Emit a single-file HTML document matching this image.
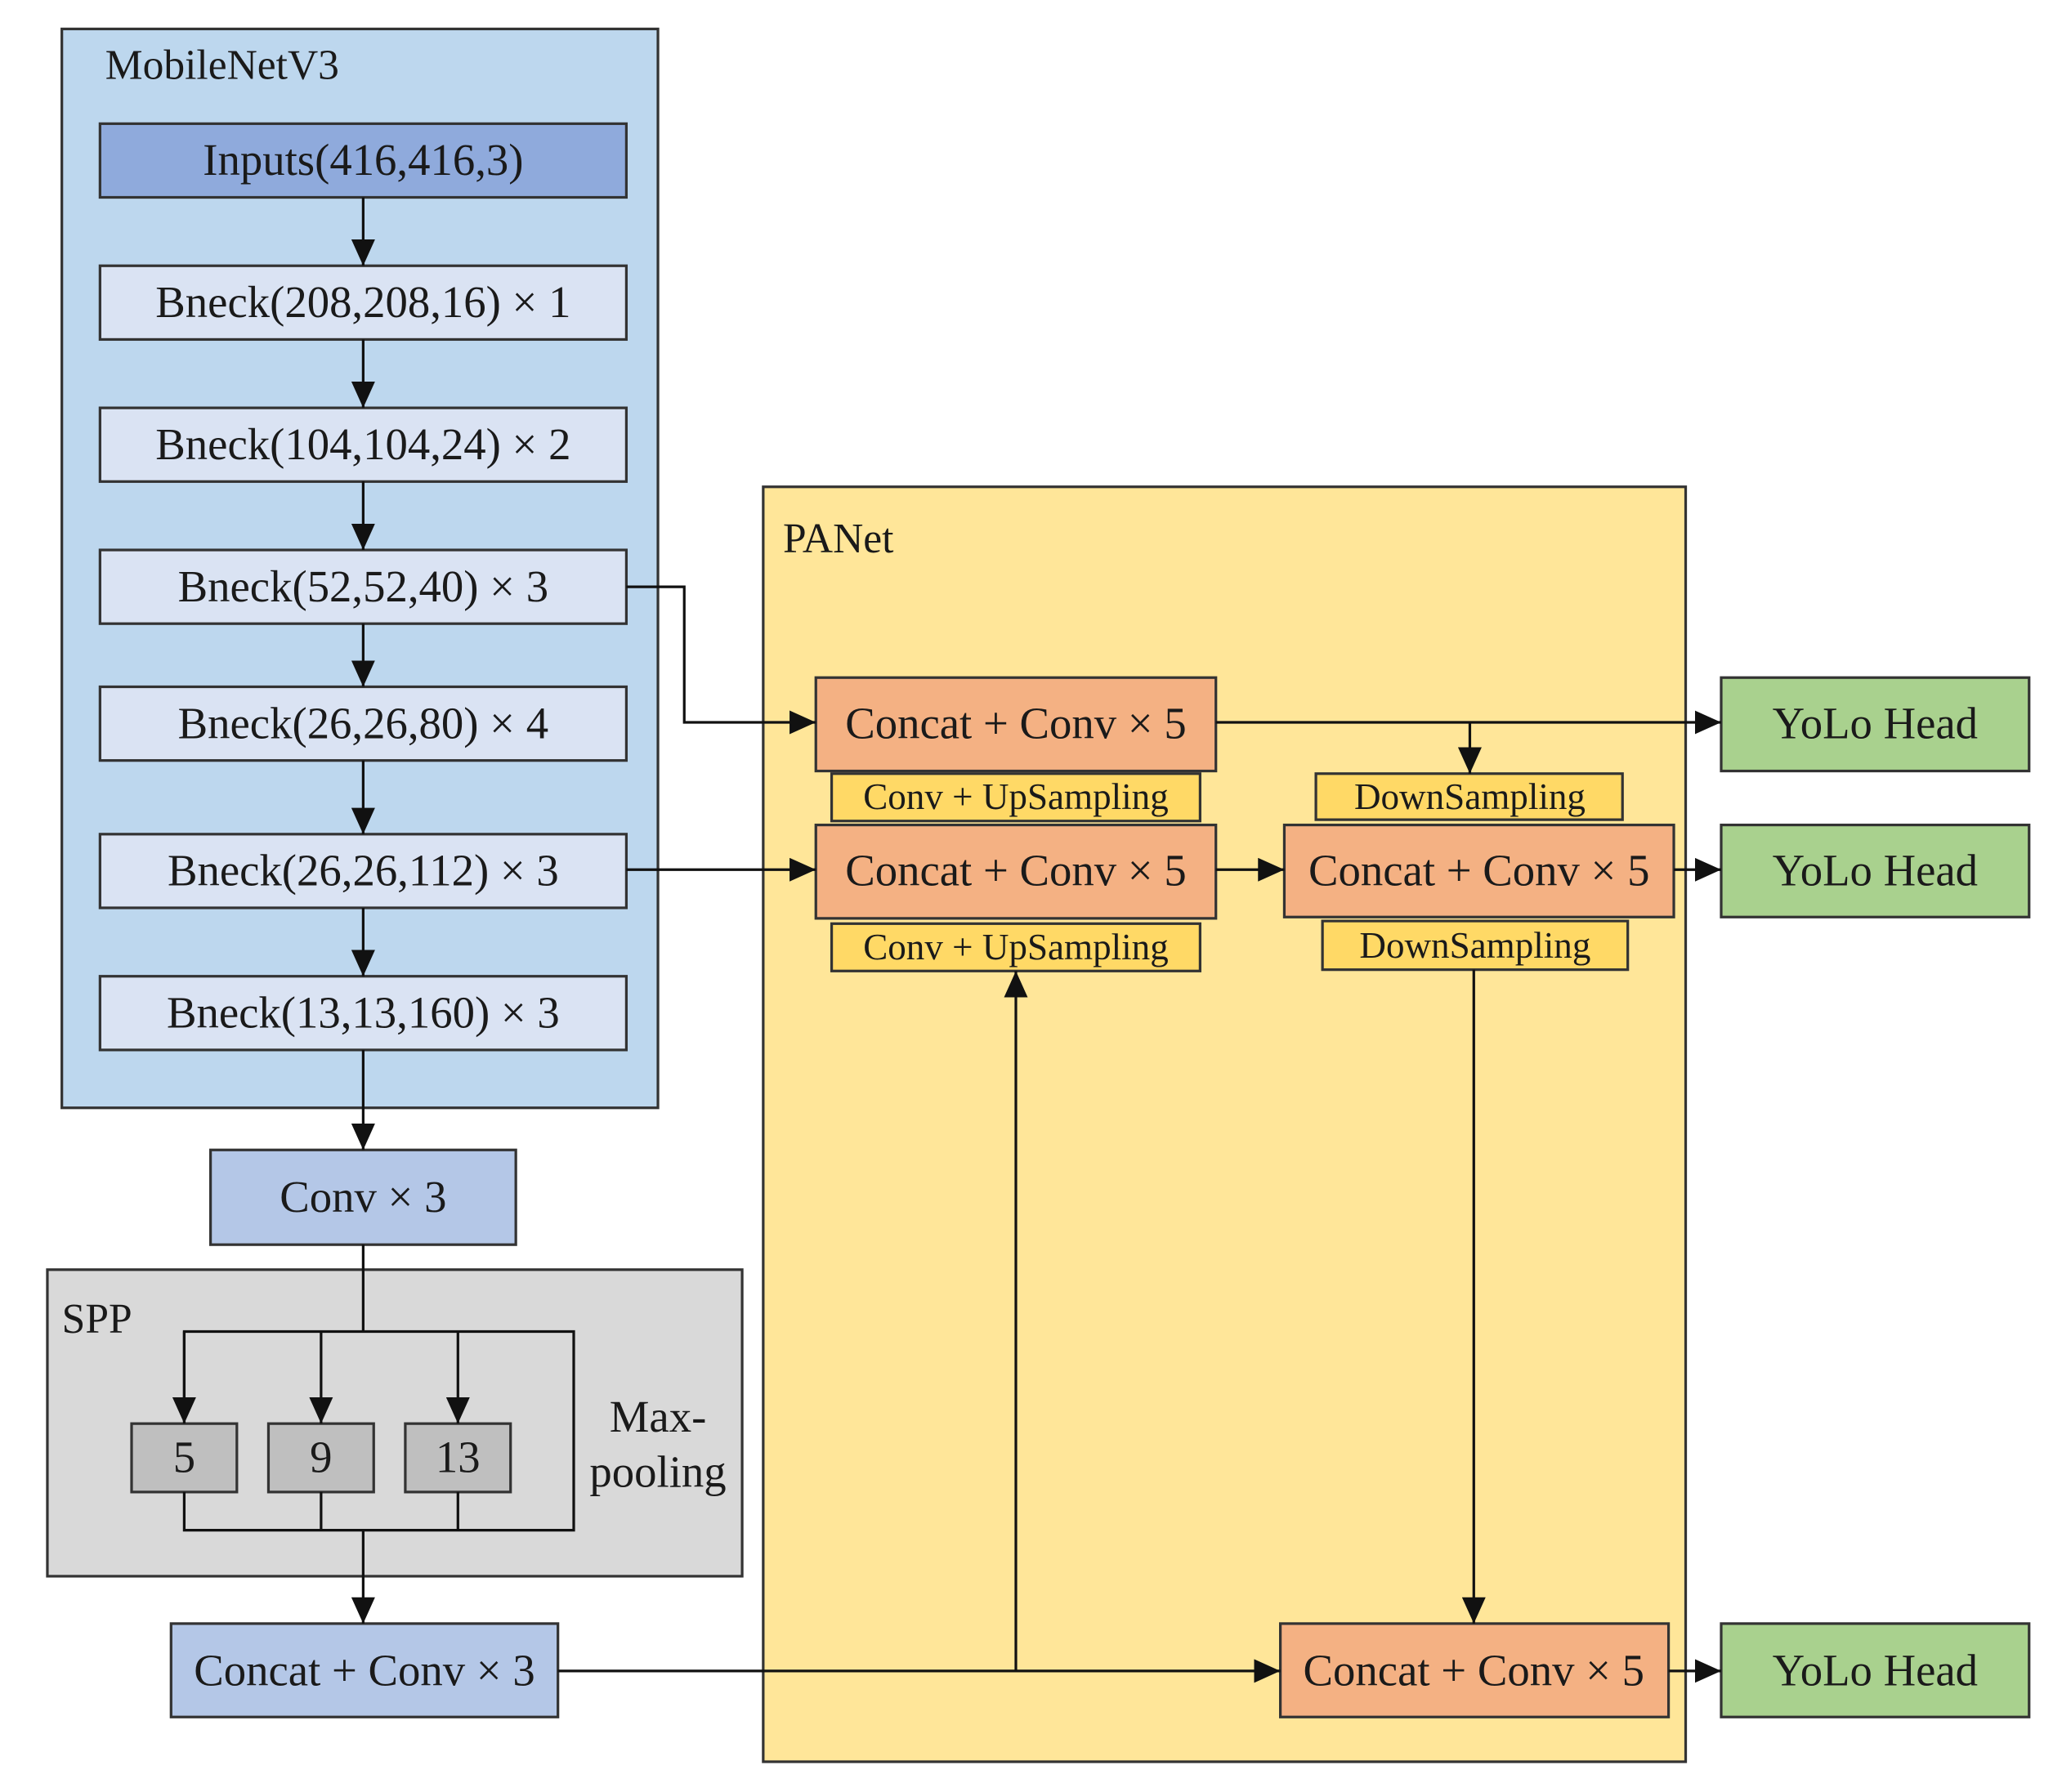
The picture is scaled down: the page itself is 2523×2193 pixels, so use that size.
<!DOCTYPE html>
<html><head><meta charset="utf-8"><style>
html,body{margin:0;padding:0;background:#fff;}
svg{display:block;}
text{font-family:"Liberation Serif",serif;fill:#1a1a1a;}
</style></head><body>
<svg width="2523" height="2193" viewBox="0 0 1567 1362" preserveAspectRatio="none" xmlns="http://www.w3.org/2000/svg">
<defs>
<marker id="b" markerWidth="20" markerHeight="18" refX="20" refY="9" orient="auto" markerUnits="userSpaceOnUse">
<path d="M0,0 L20,9 L0,18 z" fill="#111"/></marker>
</defs>
<g stroke="#333" stroke-width="2">
<rect x="47" y="22" width="453" height="820" fill="#bdd7ee"/>
<rect x="580" y="370" width="701" height="969" fill="#ffe699"/>
<rect x="36" y="965" width="528" height="233" fill="#d9d9d9"/>
<rect x="76" y="94" width="400" height="56" fill="#8faadc"/>
<rect x="76" y="202" width="400" height="56" fill="#dae3f3"/>
<rect x="76" y="310" width="400" height="56" fill="#dae3f3"/>
<rect x="76" y="418" width="400" height="56" fill="#dae3f3"/>
<rect x="76" y="522" width="400" height="56" fill="#dae3f3"/>
<rect x="76" y="634" width="400" height="56" fill="#dae3f3"/>
<rect x="76" y="742" width="400" height="56" fill="#dae3f3"/>
<rect x="160" y="874" width="232" height="72" fill="#b4c7e7"/>
<rect x="100" y="1082" width="80" height="52" fill="#bfbfbf"/>
<rect x="204" y="1082" width="80" height="52" fill="#bfbfbf"/>
<rect x="308" y="1082" width="80" height="52" fill="#bfbfbf"/>
<rect x="130" y="1234" width="294" height="71" fill="#b4c7e7"/>
<rect x="620" y="515" width="304" height="71" fill="#f4b183"/>
<rect x="632" y="588" width="280" height="36" fill="#ffd966"/>
<rect x="620" y="627" width="304" height="71" fill="#f4b183"/>
<rect x="632" y="702" width="280" height="36" fill="#ffd966"/>
<rect x="1000" y="588" width="233" height="35" fill="#ffd966"/>
<rect x="976" y="627" width="296" height="70" fill="#f4b183"/>
<rect x="1005" y="700" width="232" height="37" fill="#ffd966"/>
<rect x="973" y="1234" width="295" height="71" fill="#f4b183"/>
<rect x="1308" y="515" width="234" height="71" fill="#a9d18e"/>
<rect x="1308" y="627" width="234" height="70" fill="#a9d18e"/>
<rect x="1308" y="1234" width="234" height="71" fill="#a9d18e"/>
</g>
<g stroke="#111" stroke-width="2" fill="none">
<line x1="276" y1="150" x2="276" y2="202" marker-end="url(#b)"/>
<line x1="276" y1="258" x2="276" y2="310" marker-end="url(#b)"/>
<line x1="276" y1="366" x2="276" y2="418" marker-end="url(#b)"/>
<line x1="276" y1="474" x2="276" y2="522" marker-end="url(#b)"/>
<line x1="276" y1="578" x2="276" y2="634" marker-end="url(#b)"/>
<line x1="276" y1="690" x2="276" y2="742" marker-end="url(#b)"/>
<line x1="276" y1="798" x2="276" y2="874" marker-end="url(#b)"/>
<polyline points="276,946 276,1012"/>
<polyline points="140,1080 140,1012 436,1012 436,1163 140,1163 140,1134"/>
<line x1="244" y1="1012" x2="244" y2="1082" marker-end="url(#b)"/>
<line x1="348" y1="1012" x2="348" y2="1082" marker-end="url(#b)"/>
<line x1="140" y1="1012" x2="140" y2="1082" marker-end="url(#b)"/>
<line x1="244" y1="1134" x2="244" y2="1163"/>
<line x1="348" y1="1134" x2="348" y2="1163"/>
<line x1="276" y1="1163" x2="276" y2="1234" marker-end="url(#b)"/>
<polyline points="476,446 520,446 520,549 620,549" marker-end="url(#b)"/>
<line x1="476" y1="661" x2="620" y2="661" marker-end="url(#b)"/>
<line x1="924" y1="549" x2="1308" y2="549" marker-end="url(#b)"/>
<polyline points="1117,549 1117,588" marker-end="url(#b)"/>
<line x1="924" y1="661" x2="976" y2="661" marker-end="url(#b)"/>
<line x1="1272" y1="661" x2="1308" y2="661" marker-end="url(#b)"/>
<line x1="1120" y1="737" x2="1120" y2="1234" marker-end="url(#b)"/>
<line x1="424" y1="1270" x2="973" y2="1270" marker-end="url(#b)"/>
<line x1="772" y1="1270" x2="772" y2="738" marker-end="url(#b)"/>
<line x1="1268" y1="1270" x2="1308" y2="1270" marker-end="url(#b)"/>
</g>
<g font-size="34" text-anchor="middle">
<text x="276" y="133">Inputs(416,416,3)</text>
<text x="276" y="241">Bneck(208,208,16) × 1</text>
<text x="276" y="349">Bneck(104,104,24) × 2</text>
<text x="276" y="457">Bneck(52,52,40) × 3</text>
<text x="276" y="561">Bneck(26,26,80) × 4</text>
<text x="276" y="673">Bneck(26,26,112) × 3</text>
<text x="276" y="781">Bneck(13,13,160) × 3</text>
<text x="276" y="921">Conv × 3</text>
<text x="140" y="1119">5</text>
<text x="244" y="1119">9</text>
<text x="348" y="1119">13</text>
<text x="277" y="1281">Concat + Conv × 3</text>
<text x="772" y="561">Concat + Conv × 5</text>
<text x="772" y="673">Concat + Conv × 5</text>
<text x="1124" y="673">Concat + Conv × 5</text>
<text x="1120" y="1281">Concat + Conv × 5</text>
<text x="1425" y="561">YoLo Head</text>
<text x="1425" y="673">YoLo Head</text>
<text x="1425" y="1281">YoLo Head</text>
<text x="500" y="1088">Max-</text>
<text x="500" y="1130">pooling</text>
</g>
<g font-size="28" text-anchor="middle">
<text x="772" y="615">Conv + UpSampling</text>
<text x="772" y="729">Conv + UpSampling</text>
<text x="1117" y="615">DownSampling</text>
<text x="1121" y="728">DownSampling</text>
</g>
<g font-size="32">
<text x="80" y="60">MobileNetV3</text>
<text x="595" y="420">PANet</text>
<text x="47" y="1013">SPP</text>
</g>
</svg>
</body></html>
